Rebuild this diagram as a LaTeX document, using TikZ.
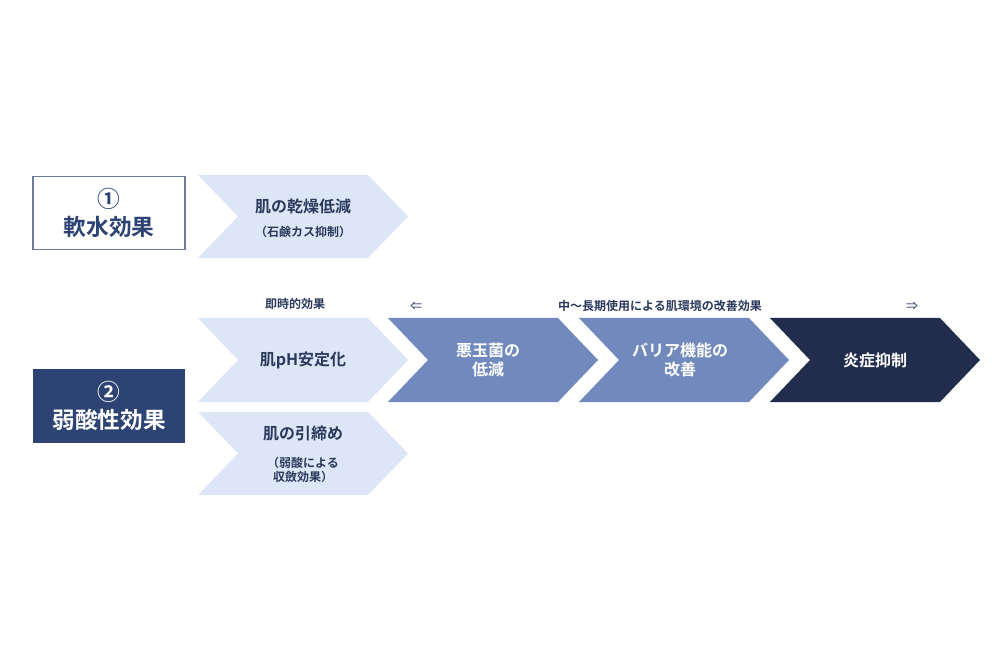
\documentclass[tikz,border=0pt]{standalone}
\usepackage{fontspec}
\setmainfont{Noto Sans CJK JP}[BoldFont={* Bold}]
\begin{document}
\begin{tikzpicture}[x=0.75pt,y=-0.75pt,
  chev/.style={draw=none},
  lt/.style={text=txt,font=\bfseries\fontsize{12}{14}\selectfont,align=center},
  wt/.style={text=white,font=\bfseries\fontsize{12}{14}\selectfont,align=center}]
\definecolor{light}{HTML}{DDE6F6}
\definecolor{mid}{HTML}{7189BD}
\definecolor{dark}{HTML}{222D4D}
\definecolor{navy}{HTML}{2D4373}
\definecolor{txt}{HTML}{2B3A5C}
\useasboundingbox (0,0) rectangle (1000,670);
\newcommand{\chevr}[4]{\fill[#4] (#1,#2) -- (#1+170,#2) -- (#1+210,{(#2+#3)/2}) -- (#1+170,#3) -- (#1,#3) -- (#1+40,{(#2+#3)/2}) -- cycle;}
\chevr{198}{175}{258}{light}
\chevr{198}{318}{402}{light}
\chevr{198}{412}{495}{light}
\chevr{388}{318}{402}{mid}
\chevr{579}{318}{402}{mid}
\chevr{770}{318}{402}{dark}
\node[draw=navy!70,line width=0.8pt,minimum width=114pt,minimum height=55pt,text=navy,font=\bfseries\fontsize{17}{21}\selectfont,align=center] (b1) at (109,213) {①\\軟水効果};
\node[fill=navy,minimum width=114pt,minimum height=55pt,text=white,font=\bfseries\fontsize{17}{21}\selectfont,align=center] (b2) at (109,406) {②\\弱酸性効果};
\node[lt] (t1) at (303,206) {肌の乾燥低減};
\node[lt,font=\bfseries\fontsize{9}{11}\selectfont] (t1b) at (303,232) {（石鹸カス抑制）};
\node[lt] (t2) at (303,360) {肌pH安定化};
\node[lt] (t3) at (303,433) {肌の引締め};
\node[lt,font=\bfseries\fontsize{9}{11}\selectfont] (t3b) at (303,470) {（弱酸による\\収斂効果）};
\node[wt] (t4) at (488,360) {悪玉菌の\\低減};
\node[wt] (t5) at (680,360) {バリア機能の\\改善};
\node[wt] (t6) at (875,360) {炎症抑制};
\node[lt,font=\bfseries\fontsize{9}{11}\selectfont] (l1) at (295,304) {即時的効果};
\node[lt,font=\bfseries\fontsize{9}{11}\selectfont] (l2) at (660,306) {中～長期使用による肌環境の改善効果};
\node[lt,font=\fontsize{9}{11}\selectfont] (l3) at (416,306) {⇐};
\node[lt,font=\fontsize{9}{11}\selectfont] (l4) at (912,306) {⇒};
\end{tikzpicture}
\end{document}
